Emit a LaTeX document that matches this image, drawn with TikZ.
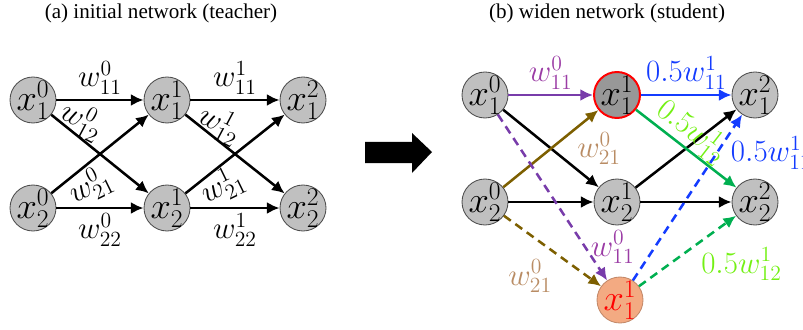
\RequirePackage{fix-cm}
\documentclass[tikz,border=0pt]{standalone}
\usepackage{amsmath}
\usepackage{fontspec}
\newfontfamily\capfont{Liberation Serif}
\usetikzlibrary{arrows.meta}
\definecolor{nodegray}{RGB}{192,192,192}
\definecolor{hidgray}{RGB}{152,152,152}
\definecolor{neworange}{RGB}{243,170,130}
\definecolor{wpurple}{RGB}{120,60,170}
\definecolor{lpurple}{RGB}{155,60,165}
\definecolor{wolive}{RGB}{125,95,0}
\definecolor{lbrown}{RGB}{185,140,100}
\definecolor{wblue}{RGB}{20,60,255}
\definecolor{wgreen}{RGB}{0,175,80}
\definecolor{lgreen}{RGB}{115,240,20}
\tikzstyle{vertex}=[circle,draw=black!70,line width=0.6pt,fill=nodegray,minimum size=1.15cm,inner sep=-5pt,font=\fontsize{26}{30}\selectfont]
\tikzstyle{wlabel}=[font=\fontsize{22}{26}\selectfont,inner sep=3pt]
\tikzstyle{newedge}=[dash pattern=on 6pt off 4pt]

\begin{document}
\begin{tikzpicture}[>={Latex[length=9pt,width=8.5pt]}, line width=1.8pt]
\useasboundingbox (0, 0) rectangle (20.075, 8.225);
\node[font=\capfont\fontsize{15}{18}\selectfont] at (4.025, 7.9) (titlea) {(a) initial network (teacher)};
\node[font=\capfont\fontsize{15}{18}\selectfont] at (15.175, 7.9) (titleb) {(b) widen network (student)};
% teacher
\node[vertex] at (0.825, 5.725) (a0) {$x_1^0$};
\node[vertex] at (0.825, 3.025) (b0) {$x_2^0$};
\node[vertex] at (4.175, 5.725) (a1) {$x_1^1$};
\node[vertex] at (4.175, 3.025) (b1) {$x_2^1$};
\node[vertex] at (7.575, 5.725) (a2) {$x_1^2$};
\node[vertex] at (7.575, 3.025) (b2) {$x_2^2$};
\draw[->] (a0) edge node[wlabel, anchor = south] {$w_{11}^0$} (a1);
\draw[->] (a0) edge node[wlabel, pos = 0.25, xshift = 4.6pt, yshift = 10pt, rotate = -28] {$w_{12}^0$} (b1);
\draw[->] (b0) edge node[wlabel, pos = 0.3, xshift = 6.8pt, yshift = -11.4pt, rotate = 26] {$w_{21}^0$} (a1);
\draw[->] (b0) edge node[wlabel, anchor = north] {$w_{22}^0$} (b1);
\draw[->] (a1) edge node[wlabel, anchor = south] {$w_{11}^1$} (a2);
\draw[->] (a1) edge node[wlabel, pos = 0.25, xshift = 7pt, yshift = 7pt, rotate = -28] {$w_{12}^1$} (b2);
\draw[->] (b1) edge node[wlabel, pos = 0.3, xshift = 5pt, yshift = -11.4pt, rotate = 26] {$w_{21}^1$} (a2);
\draw[->] (b1) edge node[wlabel, anchor = north] {$w_{22}^1$} (b2);
% big arrow
\fill (9.125, 4.675) -- (10.3, 4.675) -- (10.3, 4.9) -- (10.8, 4.425) -- (10.3, 3.9) -- (10.3, 4.15) -- (9.125, 4.15) -- cycle;
% student
\node[vertex] at (12.125, 5.85) (p0) {$x_1^0$};
\node[vertex] at (12.125, 3.175) (q0) {$x_2^0$};
\node[vertex, draw = red, line width = 1.4pt, fill = hidgray] at (15.425, 5.85) (p1) {$x_1^1$};
\node[vertex] at (15.425, 3.175) (q1) {$x_2^1$};
\node[vertex] at (18.875, 5.85) (p2) {$x_1^2$};
\node[vertex] at (18.875, 3.175) (q2) {$x_2^2$};
\node[vertex, fill = neworange, draw = neworange!80!black, text = red] at (15.5, 0.725) (n1) {$x_1^1$};
\draw[->] (p0) edge (q1);
\draw[->] (q0) edge (q1);
\draw[->] (q1) edge (p2);
\draw[->] (q1) edge (q2);
\draw[->, wpurple] (p0) edge node[wlabel, text = lpurple, anchor = south] {$w_{11}^0$} (p1);
\draw[->, wolive] (q0) edge node[wlabel, text = lbrown, pos = 0.75, anchor = north west, inner sep = 1pt] {$w_{21}^0$} (p1);
\draw[->, wblue] (p1) edge node[wlabel, anchor = south] {$0.5w_{11}^1$} (p2);
\draw[->, wgreen] (p1) edge node[wlabel, text = lgreen, pos = 0.45, sloped, anchor = south, inner sep = 0pt] {$0.5w_{12}^1$} (q2);
\draw[->, wpurple, newedge] (p0) edge node[wlabel, text = lpurple, pos = 0.8, anchor = west] {$w_{11}^0$} (n1);
\draw[->, wolive, newedge] (q0) edge node[wlabel, text = lbrown, pos = 0.55, anchor = north east] {$w_{21}^0$} (n1);
\draw[->, wblue, newedge] (n1) edge node[wlabel, pos = 0.77, anchor = west, xshift = 6pt] {$0.5w_{11}^1$} (p2);
\draw[->, wgreen, newedge] (n1) edge node[wlabel, text = lgreen, pos = 0.6, anchor = north west, inner sep = 2pt] {$0.5w_{12}^1$} (q2);
\end{tikzpicture}
\end{document}
